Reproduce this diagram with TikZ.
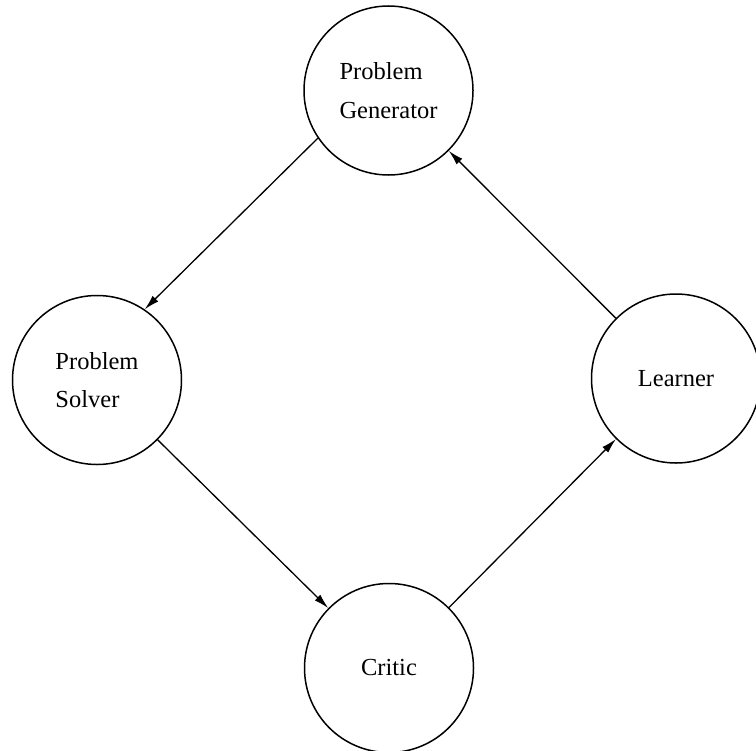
\documentclass[tikz,border=0pt]{standalone}
\usepackage{fontspec}
\setmainfont{Liberation Serif}
\usetikzlibrary{arrows.meta}
\begin{document}
\begin{tikzpicture}[x=1bp,y=-1bp,
  agent/.style={circle,draw,line width=1.5bp,minimum size=169bp,inner sep=0pt,
    align=left,font=\fontsize{24.5bp}{38.5bp}\selectfont},
  flow/.style={-{Latex[length=15bp,width=8bp]},line width=1.3bp}]
  \useasboundingbox (0,0) rectangle (756,751);
  \fill[white] (0,0) rectangle (756,751);

  % the four components of the learning loop
  \node[agent] (gen) at (388.5,90.5) {Problem\\Generator};
  \node[agent] (sol) at (97,380) {Problem\\Solver};
  \node[agent] (lrn) at (676,378.5) {Learner};
  \node[agent] (crt) at (389,668) {Critic};

  % connectors around the loop
  \draw[flow] (gen.214) -- (sol.56);
  \draw[flow] (sol) -- (crt);
  \draw[flow] (crt) -- (lrn);
  \draw[flow] (lrn) -- (gen);
\end{tikzpicture}
\end{document}
